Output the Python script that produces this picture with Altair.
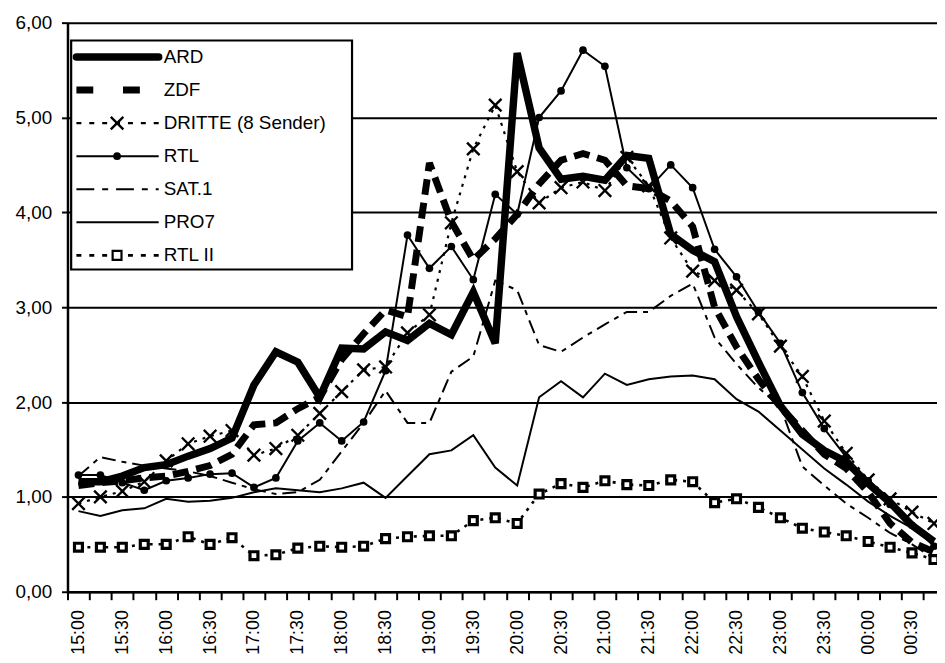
import altair as alt
import pandas as pd

# ---------------- data ----------------
times = ["15:00", "15:15", "15:30", "15:45", "16:00", "16:15", "16:30", "16:45",
         "17:00", "17:15", "17:30", "17:45", "18:00", "18:15", "18:30", "18:45",
         "19:00", "19:15", "19:30", "19:45", "20:00", "20:15", "20:30", "20:45",
         "21:00", "21:15", "21:30", "21:45", "22:00", "22:15", "22:30", "22:45",
         "23:00", "23:15", "23:30", "23:45", "00:00", "00:15", "00:30", "00:45"]

series_names = ["ARD", "ZDF", "DRITTE (8 Sender)", "RTL", "SAT.1", "PRO7", "RTL II"]

ard = [1.16, 1.16, 1.22, 1.31, 1.34, 1.43, 1.51, 1.62, 2.18, 2.53,
       2.42, 2.05, 2.57, 2.56, 2.74, 2.65, 2.83, 2.71, 3.16, 2.62,
       5.68, 4.68, 4.35, 4.38, 4.34, 4.60, 4.57, 3.77, 3.60, 3.48,
       2.90, 2.42, 1.96, 1.66, 1.49, 1.37, 1.14, 0.94, 0.70, 0.53]
zdf = [1.12, 1.15, 1.17, 1.20, 1.22, 1.27, 1.33, 1.45, 1.76, 1.78,
       1.93, 2.05, 2.45, 2.72, 2.97, 2.90, 4.52, 3.90, 3.50, 3.72,
       3.98, 4.30, 4.55, 4.62, 4.55, 4.28, 4.25, 4.12, 3.85, 3.00,
       2.58, 2.24, 1.95, 1.70, 1.45, 1.30, 1.05, 0.72, 0.52, 0.42]
dritte = [0.93, 1.00, 1.06, 1.16, 1.38, 1.56, 1.64, 1.70, 1.44, 1.51,
          1.65, 1.88, 2.11, 2.34, 2.37, 2.73, 2.92, 3.89, 4.67, 5.13,
          4.43, 4.10, 4.26, 4.32, 4.23, 4.58, 4.28, 3.73, 3.38, 3.28,
          3.18, 2.93, 2.59, 2.27, 1.80, 1.46, 1.18, 0.98, 0.84, 0.72]
rtl = [1.23, 1.23, 1.15, 1.07, 1.17, 1.20, 1.24, 1.25, 1.10, 1.20,
       1.59, 1.78, 1.59, 1.79, 2.33, 3.76, 3.41, 3.64, 3.29, 4.19,
       3.98, 5.00, 5.28, 5.71, 5.54, 4.47, 4.25, 4.50, 4.26, 3.61,
       3.32, 2.95, 2.62, 2.10, 1.72, 1.42, 1.17, 0.92, 0.70, 0.48]
sat1 = [1.22, 1.42, 1.37, 1.33, 1.30, 1.27, 1.22, 1.15, 1.08, 1.03,
        1.05, 1.18, 1.48, 1.78, 2.12, 1.78, 1.78, 2.32, 2.48, 3.28,
        3.18, 2.60, 2.53, 2.68, 2.82, 2.95, 2.95, 3.12, 3.25, 2.68,
        2.40, 2.15, 1.95, 1.32, 1.12, 0.93, 0.78, 0.62, 0.50, 0.35]
pro7 = [0.85, 0.80, 0.86, 0.88, 0.98, 0.95, 0.96, 0.99, 1.05, 1.09,
        1.07, 1.05, 1.09, 1.15, 0.99, 1.22, 1.45, 1.49, 1.65, 1.31,
        1.12, 2.05, 2.22, 2.05, 2.30, 2.18, 2.24, 2.27, 2.28, 2.24,
        2.03, 1.90, 1.70, 1.50, 1.30, 1.13, 0.95, 0.80, 0.67, 0.52]
rtl2 = [0.47, 0.47, 0.47, 0.50, 0.50, 0.58, 0.50, 0.57, 0.38, 0.39,
        0.46, 0.48, 0.47, 0.48, 0.56, 0.58, 0.59, 0.59, 0.75, 0.78,
        0.72, 1.03, 1.14, 1.10, 1.17, 1.13, 1.12, 1.18, 1.16, 0.94,
        0.98, 0.89, 0.78, 0.67, 0.63, 0.59, 0.53, 0.47, 0.41, 0.34]

y_ticks = [0, 1, 2, 3, 4, 5, 6]

values = [ard, zdf, dritte, rtl, sat1, pro7, rtl2]
df = pd.DataFrame([
    {"time": t, "series": name, "value": v}
    for name, vals in zip(series_names, values)
    for t, v in zip(times, vals)
])

# ---------------- styles ----------------
FONT = "Liberation Sans, Arial, sans-serif"
X_MARK = "M-1,-1L1,1M-1,1L1,-1"
styles = {
    "ARD":               dict(w=7.5, dash=None,          ldash=None,          marker=None),
    "ZDF":               dict(w=7.0, dash=[16, 8],       ldash=[17, 30],      marker=None),
    "DRITTE (8 Sender)": dict(w=2.2, dash=[3, 6],        ldash=[5, 8],        marker="x"),
    "RTL":               dict(w=2.0, dash=None,          ldash=None,          marker="dot"),
    "SAT.1":             dict(w=2.0, dash=[14, 6, 5, 6], ldash=[18, 8, 6, 8], marker=None),
    "PRO7":              dict(w=2.0, dash=None,          ldash=None,          marker=None),
    "RTL II":            dict(w=2.6, dash=[3, 6],        ldash=[5, 8],        marker="sq"),
}

x_enc = alt.X(
    "time:N", sort=times, title=None, bandPosition=0.5,
    scale=alt.Scale(type="band", paddingInner=0, paddingOuter=0, range=[0, 885]),
    axis=alt.Axis(
        tickBand="extent", tickSize=8, tickWidth=2, tickColor="black",
        domainColor="black", domainWidth=2.5, labelAngle=270, labelPadding=10,
        labelOverlap=False, labelFontSize=18, labelFont=FONT, labelColor="black",
        labelExpr="(substring(datum.value, 3, 5) == '00' || substring(datum.value, 3, 5) == '30') ? datum.value : ''",
        grid=False,
    ),
)
y_enc = alt.Y(
    "value:Q", title=None,
    scale=alt.Scale(domain=[0, 6], nice=False, zero=True),
    axis=alt.Axis(
        values=y_ticks, grid=True, gridColor="black", gridWidth=2, gridOpacity=1,
        tickSize=6, tickWidth=2, tickColor="black", domainColor="black",
        domainWidth=2.5, labelPadding=10, labelFontSize=19, labelFont=FONT,
        labelColor="black",
        labelExpr="replace(format(datum.value, '.2f'), '.', ',')",
    ),
)


def marker_mark(chart, kind, legend=False):
    if kind == "x":
        return chart.mark_point(shape=X_MARK, size=160, filled=False,
                                stroke="black", strokeWidth=2.4, opacity=1)
    if kind == "dot":
        return chart.mark_point(shape="circle", size=60, filled=True,
                                color="black", opacity=1)
    return chart.mark_point(shape="square", size=80 if legend else 64, filled=True,
                            fill="white", stroke="black",
                            strokeWidth=2.2 if legend else 3.2, opacity=1)


base = alt.Chart(df)
layers = []
for name in series_names:
    st = styles[name]
    kw = dict(color="black", strokeWidth=st["w"])
    if st["dash"]:
        kw["strokeDash"] = st["dash"]
    sub = base.transform_filter(alt.datum.series == name)
    layers.append(sub.mark_line(**kw).encode(x=x_enc, y=y_enc))
    if st["marker"]:
        layers.append(marker_mark(sub, st["marker"]).encode(x=x_enc, y=y_enc))

# ---------------- legend (inside plot) ----------------
one = alt.Chart(pd.DataFrame({"k": [0]}))
layers.append(one.mark_rect(fill="white", stroke="black", strokeWidth=2.2).encode(
    x=alt.value(3.7), x2=alt.value(287), y=alt.value(18), y2=alt.value(249)))
for k, name in enumerate(series_names):
    st = styles[name]
    ry = 34.6 + 33.35 * k
    kw = dict(color="black", strokeWidth=st["w"])
    if st["ldash"]:
        kw["strokeDash"] = st["ldash"]
    if name == "ARD":
        kw["strokeCap"] = "round"
    layers.append(one.mark_rule(**kw).encode(
        x=alt.value(9), x2=alt.value(92), y=alt.value(ry)))
    if st["marker"]:
        layers.append(marker_mark(one, st["marker"], legend=True).encode(
            x=alt.value(50), y=alt.value(ry)))
    layers.append(one.mark_text(align="left", baseline="middle", fontSize=19,
                                font=FONT, color="black").encode(
        x=alt.value(97), y=alt.value(ry), text=alt.value(name)))

chart = alt.layer(*layers).properties(
    width=877, height=574,
    autosize=alt.AutoSizeParams(type="none"),
    padding={"left": 60, "top": 12, "right": 0, "bottom": 61},
).configure_view(stroke=None)

chart.save("out.html", embed_options={"renderer": "svg", "actions": False})
